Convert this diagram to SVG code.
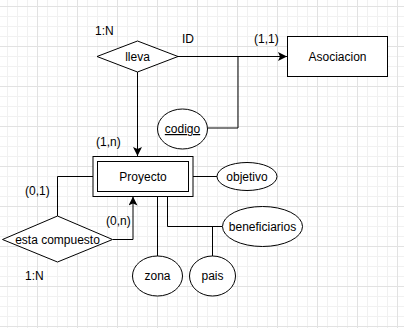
<svg xmlns="http://www.w3.org/2000/svg" width="404" height="328" viewBox="0 0 404 328">
<defs>
<pattern id="grid" patternUnits="userSpaceOnUse" x="37" y="6" width="40" height="40">
<path d="M10.5,0V40M20.5,0V40M30.5,0V40M0,10.5H40M0,20.5H40M0,30.5H40" stroke="#f1f1f1" stroke-width="1" fill="none"/>
<path d="M0.5,0V40M0,0.5H40" stroke="#e2e2e2" stroke-width="1" fill="none"/>
</pattern>
<marker id="arr" markerUnits="userSpaceOnUse" markerWidth="9" markerHeight="9" viewBox="0 0 9 9" refX="9" refY="4.5" orient="auto">
<path d="M0,0 L9,4.5 L0,9 L2,4.5 Z" fill="#000"/>
</marker>
</defs>
<style>
text{font-family:"Liberation Sans",Arial,sans-serif;font-size:12px;fill:#000}
.c{text-anchor:middle}
.s{fill:#fff;stroke:#000;stroke-width:1}
.l{fill:none;stroke:#000;stroke-width:1}
</style>
<rect width="404" height="328" fill="#fff"/>
<rect width="404" height="328" fill="url(#grid)"/>
<g id="connectors">
<path class="l" d="M137.5,72V156" marker-end="url(#arr)"/>
<path class="l" d="M177,56.5H287" marker-end="url(#arr)"/>
<path class="l" d="M208,128H238V56.5"/>
<path class="l" d="M93,176.5H57.5V216"/>
<path class="l" d="M113,239.5H133V196.5" marker-end="url(#arr)"/>
<path class="l" d="M193,176.5H217"/>
<path class="l" d="M157.5,196.5V256"/>
<path class="l" d="M167.5,196.5V226.5H222"/>
<path class="l" d="M212.5,226.5V256"/>
</g>
<g id="lleva">
<path class="s" d="M97,56.5L137.5,41L178,56.5L137.5,72Z"/>
<text class="c" x="137.5" y="60.5">lleva</text>
</g>
<g id="asociacion">
<rect class="s" x="287.5" y="36.5" width="100" height="40"/>
<text class="c" x="337.5" y="60.5">Asociacion</text>
</g>
<g id="codigo">
<ellipse class="s" cx="182.5" cy="129" rx="25" ry="20"/>
<text class="c" x="182.5" y="133" text-decoration="underline">codigo</text>
</g>
<g id="proyecto">
<rect class="s" x="93" y="156.5" width="100" height="40"/>
<rect class="s" x="97.5" y="161.5" width="91" height="30"/>
<text class="c" x="143" y="180.5">Proyecto</text>
</g>
<g id="objetivo">
<ellipse class="s" cx="247" cy="176.5" rx="30" ry="14"/>
<text class="c" x="247" y="180.5">objetivo</text>
</g>
<g id="beneficiarios">
<ellipse class="s" cx="262.5" cy="226.5" rx="40" ry="20"/>
<text class="c" x="262.5" y="230.5">beneficiarios</text>
</g>
<g id="zona">
<ellipse class="s" cx="157.5" cy="276" rx="25" ry="20"/>
<text class="c" x="157.5" y="280">zona</text>
</g>
<g id="pais">
<ellipse class="s" cx="212.5" cy="276" rx="23" ry="20"/>
<text class="c" x="212.5" y="280">pais</text>
</g>
<g id="esta-compuesto">
<path class="s" d="M2.5,239.5L57.5,216L112.5,239.5L57.5,262Z"/>
<text class="c" x="57.5" y="243.5">esta compuesto</text>
</g>
<g id="labels">
<text x="95" y="35">1:N</text>
<text x="182" y="43">ID</text>
<text x="254" y="43">(1,1)</text>
<text x="96" y="146">(1,n)</text>
<text x="25" y="195">(0,1)</text>
<text x="106" y="225">(0,n)</text>
<text x="25" y="280">1:N</text>
</g>
</svg>
